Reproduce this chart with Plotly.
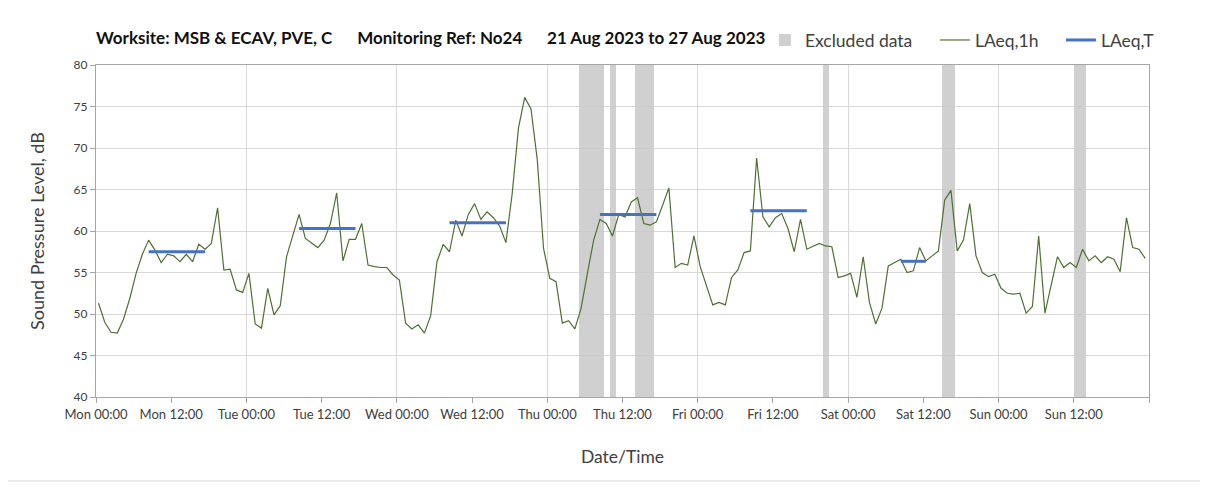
import plotly.graph_objects as go

# ---------------- data ----------------
laeq_1h = [
    51.3, 49.0, 47.8, 47.7, 49.4, 51.9, 54.9, 57.2, 58.9, 57.7, 56.2, 57.2, 57.0, 56.3,
    57.2, 56.3, 58.4, 57.8, 58.5, 62.8, 55.3, 55.4, 52.9, 52.6, 54.9, 48.8, 48.3, 53.1,
    49.9, 51.0, 56.9, 59.3, 62.0, 59.1, 58.5, 58.0, 58.9, 60.9, 64.6, 56.4, 59.0, 59.0,
    60.9, 55.9, 55.7, 55.6, 55.6, 54.7, 54.1, 48.9, 48.2, 48.7, 47.7, 49.8, 56.3, 58.4,
    57.5, 61.3, 59.4, 62.0, 63.3, 61.4, 62.3, 61.6, 60.6, 58.6, 64.5, 72.4, 76.1, 74.7,
    68.6, 57.9, 54.3, 53.9, 48.9, 49.2, 48.2, 50.7, 54.9, 58.9, 61.4, 60.9, 59.4, 62.0,
    61.7, 63.5, 64.0, 60.9, 60.7, 61.1, 63.1, 65.2, 55.6, 56.1, 55.9, 59.4, 55.7, 53.3,
    51.1, 51.4, 51.1, 54.4, 55.3, 57.4, 57.6, 68.8, 61.7, 60.5, 61.6, 62.1, 60.3, 57.5,
    61.4, 57.8, 58.2, 58.5, 58.2, 58.1, 54.4, 54.6, 54.9, 52.0, 56.9, 51.4, 48.8, 50.7,
    55.8, 56.2, 56.6, 55.0, 55.2, 58.0, 56.4, 57.0, 57.6, 63.7, 64.9, 57.6, 58.9, 63.3,
    57.0, 55.0, 54.5, 54.8, 53.1, 52.5, 52.4, 52.5, 50.1, 50.9, 59.4, 50.1, 53.6, 56.9,
    55.6, 56.2, 55.6, 57.8, 56.4, 57.0, 56.2, 56.9, 56.6, 55.1, 61.6, 58.0, 57.8, 56.7,
]

# LAeq,T per period (hour index from Mon 00:00)
laeq_t_start = [8, 32, 56, 80, 104, 128]
laeq_t_end = [17, 41, 65, 89, 113, 132]
laeq_t_value = [57.5, 60.3, 61.0, 62.0, 62.45, 56.35]

# Excluded data periods (hours from Mon 00:00)
excl_start = [77, 82, 86, 116, 135, 156]
excl_end = [81, 83, 89, 117, 137, 158]

tick_hours = list(range(0, 169, 12))
tick_labels = ["Mon 00:00", "Mon 12:00", "Tue 00:00", "Tue 12:00", "Wed 00:00",
               "Wed 12:00", "Thu 00:00", "Thu 12:00", "Fri 00:00", "Fri 12:00",
               "Sat 00:00", "Sat 12:00", "Sun 00:00", "Sun 12:00", ""]
day_hours = list(range(0, 169, 24))

y_min, y_max = 40, 80
point_offset = 0.4  # hourly values plotted slightly after the hour mark

# ---------------- figure ----------------
FONT = "Lato"
TXT = "#404040"
GRID = "#d9d9d9"
AXL = "#a6a6a6"
W, H = 1200, 482  # page body adds an 8px margin

x_hours = [i + point_offset for i in range(len(laeq_1h))]

fig = go.Figure()

fig.add_trace(go.Bar(
    x=[(s + e) / 2 for s, e in zip(excl_start, excl_end)],
    y=[y_max - y_min] * len(excl_start),
    base=y_min,
    width=[e - s for s, e in zip(excl_start, excl_end)],
    marker=dict(color="#c8c8c8", line=dict(width=0)),
    opacity=0.85,
    name="Excluded data",
    legendwidth=125,
    xaxis="x", yaxis="y",
    hoverinfo="skip",
))

fig.add_trace(go.Scatter(
    x=x_hours, y=laeq_1h, mode="lines",
    line=dict(color="#4f7033", width=1.2),
    name="LAeq,1h", legendwidth=81,
    xaxis="x2", yaxis="y",
))

bx, by = [], []
for s, e, v in zip(laeq_t_start, laeq_t_end, laeq_t_value):
    bx += [s + point_offset, e + point_offset, None]
    by += [v, v, None]
fig.add_trace(go.Scatter(
    x=bx, y=by, mode="lines",
    line=dict(color="#4472c4", width=3),
    name="LAeq,T", xaxis="x2", yaxis="y",
))

fig.update_layout(
    width=W, height=H,
    margin=dict(l=88, r=59, t=57, b=93),
    paper_bgcolor="white", plot_bgcolor="white",
    font=dict(family=FONT, color=TXT),
    title=dict(
        text="<b>Worksite: MSB &amp; ECAV, PVE, C&nbsp;&nbsp;&nbsp;&nbsp;&nbsp;&nbsp;Monitoring Ref: No24"
             "&nbsp;&nbsp;&nbsp;&nbsp;&nbsp;&nbsp;21 Aug 2023 to 27 Aug 2023</b>",
        x=88 / W, xanchor="left", xref="container",
        y=1 - 30 / H, yanchor="middle", yref="container",
        font=dict(size=17, color="#111111", family=FONT),
    ),
    showlegend=True,
    legend=dict(
        orientation="h", x=(765 - 95.7) / 1053.6, xanchor="left", y=1.075, yanchor="middle",
        font=dict(size=17.5, color=TXT), bgcolor="rgba(0,0,0,0)",
        traceorder="normal", itemwidth=30,
    ),
    bargap=0,
    xaxis=dict(
        range=[0, 168], tickvals=day_hours, showticklabels=False, ticks="",
        showgrid=True, gridcolor=GRID, gridwidth=1.2,
        showline=True, linecolor=AXL, linewidth=1.2, mirror=True, zeroline=False,
    ),
    xaxis2=dict(
        range=[0, 168], overlaying="x", anchor="y", side="bottom",
        tickvals=tick_hours, ticktext=tick_labels, ticks="outside", ticklen=5,
        tickcolor=AXL, showgrid=False, showline=False, zeroline=False,
        tickfont=dict(size=13, color=TXT),
        title=dict(text="Date/Time", font=dict(size=17.5, color=TXT), standoff=30),
    ),
    yaxis=dict(
        range=[y_min, y_max], dtick=5, ticks="outside", ticklen=5, tickcolor=AXL,
        showgrid=True, gridcolor=GRID, gridwidth=1.2,
        showline=True, linecolor=AXL, linewidth=1.2, mirror=True, zeroline=False,
        tickfont=dict(size=12, color=TXT),
        title=dict(text="Sound Pressure Level, dB", font=dict(size=18, color=TXT), standoff=24),
    ),
    shapes=[dict(type="rect", xref="paper", yref="paper",
                 x0=-0.0842, x1=1.2, y0=-0.253, y1=1.3,
                 line=dict(color="#d9d9d9", width=1), layer="below")],
)

fig.write_html("out.html")
